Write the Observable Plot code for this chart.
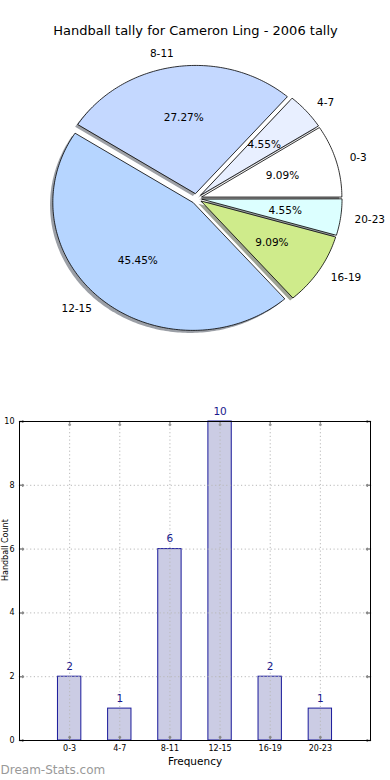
<!DOCTYPE html>
<html>
<head>
<meta charset="utf-8">
<script src="https://cdn.jsdelivr.net/npm/d3@7"></script>
<script src="https://cdn.jsdelivr.net/npm/@observablehq/plot@0.6"></script>
<style>
  html, body { margin: 0; padding: 0; background: #fff; }
  #chart svg { display: block; }
</style>
</head>
<body>
<div id="chart"></div>
<script>
const titleText = "Handball tally for Cameron Ling - 2006 tally";
const categories = ["0-3", "4-7", "8-11", "12-15", "16-19", "20-23"];
const counts = [2, 1, 6, 10, 2, 1];
const sliceColors = ["#ffffff", "#e8efff", "#c4d8ff", "#b6d5ff", "#cfeb8b", "#dcffff"];
const yTicks = [0, 2, 4, 6, 8, 10];
const xLabel = "Frequency";
const yLabel = "Handball Count";
const watermark = "Dream-Stats.com";

const font = "DejaVu Sans";
const explode = 0.04;
const total = d3.sum(counts);

// pie slices
let acc = 0;
const slices = counts.map((c, i) => {
  const a0 = acc / total * 2 * Math.PI;
  acc += c;
  const a1 = acc / total * 2 * Math.PI;
  const mid = (a0 + a1) / 2;
  const cx = explode * Math.cos(mid), cy = explode * Math.sin(mid);
  return {cat: categories[i], count: c, color: sliceColors[i], a0, a1, mid, cx, cy,
          pct: (c / total * 100).toFixed(2) + "%"};
});
const polyPts = [];
const shadowPts = [];
for (const s of slices) {
  const n = Math.max(4, Math.ceil((s.a1 - s.a0) / (Math.PI / 180)));
  const c = d3.rgb(s.color);
  const shade = d3.rgb(c.r * 0.3, c.g * 0.3, c.b * 0.3).formatHex();
  const pts = [[s.cx, s.cy]];
  for (let k = 0; k <= n; k++) {
    const a = s.a0 + (s.a1 - s.a0) * k / n;
    pts.push([s.cx + Math.cos(a), s.cy + Math.sin(a)]);
  }
  for (const [x, y] of pts) {
    polyPts.push({x, y, cat: s.cat, fill: s.color});
    shadowPts.push({x: x - 0.02, y: y - 0.02, cat: s.cat, fill: shade});
  }
}
const labelPos = slices.map(s => ({
  ...s,
  lx: s.cx + 1.1 * Math.cos(s.mid), ly: s.cy + 1.1 * Math.sin(s.mid),
  px: s.cx + 0.6 * Math.cos(s.mid), py: s.cy + 0.6 * Math.sin(s.mid)
}));

const W = 390, H1 = 390, H2 = 390;
const pcx = 196, pcy = 198, rx = 140, ry = 128;

const pie = Plot.plot({
  width: W, height: H1, margin: 0,
  style: {fontFamily: font, background: "#fff"},
  x: {domain: [-pcx / rx, (W - pcx) / rx], axis: null},
  y: {domain: [-(H1 - pcy) / ry, pcy / ry], axis: null},
  marks: [
    Plot.line(shadowPts, {x: "x", y: "y", z: "cat", fill: "fill", fillOpacity: 0.5, stroke: "none", curve: "linear-closed"}),
    Plot.line(polyPts, {x: "x", y: "y", z: "cat", fill: "fill", stroke: "#000", strokeWidth: 0.8, curve: "linear-closed"}),
    Plot.text(labelPos.filter(d => Math.cos(d.mid) >= 0), {x: "lx", y: "ly", text: "cat", textAnchor: "start", fontSize: 10.5, fill: "#000"}),
    Plot.text(labelPos.filter(d => Math.cos(d.mid) < 0), {x: "lx", y: "ly", text: "cat", textAnchor: "end", fontSize: 10.5, fill: "#000"}),
    Plot.text(labelPos, {x: "px", y: "py", text: "pct", fontSize: 10.5, fill: "#000"}),
    Plot.text([titleText], {frameAnchor: "top", lineAnchor: "middle", dy: 30, fontSize: 13, fill: "#000"})
  ]
});

const barData = categories.map((cat, i) => ({i, cat, v: counts[i]}));
const xIdx = d3.range(categories.length);

const bars = Plot.plot({
  width: W, height: H2,
  marginTop: 31, marginBottom: 40, marginLeft: 19, marginRight: 20,
  style: {fontFamily: font, background: "#fff", overflow: "visible"},
  x: {domain: [-1, categories.length], axis: null},
  y: {domain: [0, 10], axis: null},
  marks: [
    Plot.rectY(barData, {x1: d => d.i - 0.233, x2: d => d.i + 0.233, y1: 0, y2: "v", fill: "#cbcce4", stroke: "#1a1a9a", strokeWidth: 1}),
    Plot.ruleX(xIdx, {stroke: "#b8b8b8", strokeDasharray: "1.2,2.5", strokeWidth: 1}),
    Plot.ruleY(yTicks, {stroke: "#b8b8b8", strokeDasharray: "1.2,2.5", strokeWidth: 1}),
    Plot.vector(xIdx, {x: d => d, y: 0, length: 4, anchor: "start", rotate: 0, stroke: "#888"}),
    Plot.vector(xIdx, {x: d => d, y: 10, length: 4, anchor: "start", rotate: 180, stroke: "#999"}),
    Plot.vector(yTicks, {x: -1, y: d => d, length: 4, anchor: "start", rotate: 90, stroke: "#888"}),
    Plot.vector(yTicks, {x: categories.length, y: d => d, length: 4, anchor: "start", rotate: -90, stroke: "#888"}),
    Plot.frame({stroke: "#000", strokeWidth: 1}),
    Plot.text(barData, {x: "i", y: "v", text: d => String(d.v), dy: -10, fontSize: 10.5, fill: "#1a1a8c"}),
    Plot.text(barData, {x: "i", frameAnchor: "bottom", lineAnchor: "middle", dy: 8, text: "cat", fontSize: 8, fill: "#000"}),
    Plot.text(yTicks, {y: d => d, frameAnchor: "left", textAnchor: "end", dx: -5, text: d => String(d), fontSize: 8, fill: "#000"}),
    Plot.text([xLabel], {frameAnchor: "bottom", lineAnchor: "middle", dy: 21, fontSize: 10.5, fill: "#000"}),
    Plot.text([yLabel], {frameAnchor: "left", dx: -14.5, rotate: -90, fontSize: 8, fill: "#000"}),
    Plot.text([watermark], {frameAnchor: "bottom-left", lineAnchor: "middle", textAnchor: "start", dx: -19, dy: 30, fontSize: 12, fill: "#999"})
  ]
});

const el = document.getElementById("chart");
el.appendChild(pie);
el.appendChild(bars);
</script>
</body>
</html>
